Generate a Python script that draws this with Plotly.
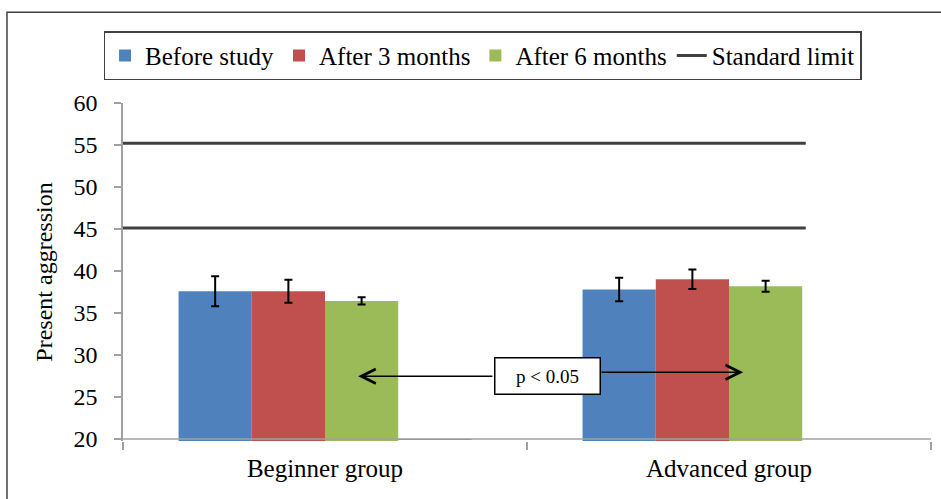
import plotly.graph_objects as go

categories = ["Beginner group", "Advanced group"]
series_names = ["Before study", "After 3 months", "After 6 months"]
before_study = [37.58, 37.79]
after_3_months = [37.58, 39.01]
after_6_months = [36.43, 38.18]
err_before = [1.79, 1.41]
err_3 = [1.37, 1.17]
err_6 = [0.44, 0.65]
extra_series = [19.93, None]          # tiny purple bar sitting just under the axis
standard_limits = [55.2, 45.1]
limit_span = [-0.5, 1.19]
y_ticks = [20, 25, 30, 35, 40, 45, 50, 55, 60]
p_text = "p &lt; 0.05"
arrow_left = dict(head=(0.082, 27.46), tail=(0.418, 27.46))
arrow_right = dict(head=(1.035, 27.94), tail=(0.681, 27.94))
box_pos = (0.5495, 27.52)

Y_MIN, Y_MAX = 19.75, 60
colors = ["#4F81BD", "#C0504D", "#9BBB59"]
FONT = "Liberation Serif, Times New Roman, serif"

fig = go.Figure()
for name, vals, errs, col in zip(series_names,
                                 [before_study, after_3_months, after_6_months],
                                 [err_before, err_3, err_6], colors):
    fig.add_trace(go.Bar(
        x=categories, y=vals, name=name, marker=dict(color=col, line=dict(width=0)),
        error_y=dict(type="data", array=errs, color="black", thickness=2, width=4),
    ))

fig.add_trace(go.Bar(
    x=categories, y=[None if v is None else v - Y_MIN - 0.15 for v in extra_series],
    base=Y_MIN + 0.15, name="", showlegend=False,
    marker=dict(color="#8064A2", line=dict(width=0)), hoverinfo="skip",
))

for i, lim in enumerate(standard_limits):
    fig.add_trace(go.Scatter(
        x=limit_span, y=[lim, lim], xaxis="x2", yaxis="y", mode="lines",
        line=dict(color="#404040", width=3), name="Standard limit",
        legendgroup="limit", showlegend=(i == 0),
    ))

shapes = [
    # x axis baseline at y = 20
    dict(type="line", xref="paper", yref="y", x0=0, x1=1, y0=20, y1=20,
         line=dict(color="#A0A0A0", width=1.5)),
    # outer frame
    dict(type="rect", xref="paper", yref="paper", x0=-0.1436, x1=1.03, y0=-0.21, y1=1.2686,
         line=dict(color="#404040", width=1.5), layer="below"),
]

annotations = [
    dict(x=arrow_left["head"][0], y=arrow_left["head"][1], ax=arrow_left["tail"][0],
         ay=arrow_left["tail"][1], xref="x", yref="y", axref="x", ayref="y",
         text="", showarrow=True, arrowhead=5, arrowsize=1.9, arrowwidth=1.5, arrowcolor="black"),
    dict(x=arrow_right["head"][0], y=arrow_right["head"][1], ax=arrow_right["tail"][0],
         ay=arrow_right["tail"][1], xref="x", yref="y", axref="x", ayref="y",
         text="", showarrow=True, arrowhead=5, arrowsize=1.9, arrowwidth=1.5, arrowcolor="black"),
    dict(x=box_pos[0], y=box_pos[1], xref="x", yref="y", text=p_text, showarrow=False,
         font=dict(family=FONT, size=19, color="black"), bgcolor="white",
         bordercolor="black", borderwidth=1.5, borderpad=0, width=104, height=35),
]

fig.update_layout(
    width=941, height=499,
    margin=dict(l=123, r=10, t=103, b=58),
    paper_bgcolor="white", plot_bgcolor="white",
    font=dict(family=FONT, color="black"),
    barmode="group", bargap=0.275, bargroupgap=0,
    showlegend=True,
    legend=dict(orientation="h", x=0.445, xanchor="center", y=1.2124, yanchor="top",
                bordercolor="#404040", borderwidth=1.5, bgcolor="white",
                font=dict(family=FONT, size=25, color="black"), traceorder="normal"),
    xaxis=dict(type="category", range=[-0.5, 1.5], showline=False, showgrid=False,
               zeroline=False, ticks="outside", tickson="boundaries", ticklen=8,
               tickcolor="#A0A0A0", tickwidth=1.5, ticklabelstandoff=10,
               tickfont=dict(family=FONT, size=25, color="black")),
    xaxis2=dict(overlaying="x", range=[-0.5, 1.5], visible=False),
    yaxis=dict(range=[Y_MIN, Y_MAX], tickvals=y_ticks, showgrid=False, zeroline=False,
               showline=True, linecolor="#A0A0A0", linewidth=1.5, ticks="outside",
               ticklen=7, tickcolor="#A0A0A0", tickwidth=1.5, ticklabelstandoff=12,
               tickfont=dict(family=FONT, size=24, color="black"),
               title=dict(text="Present aggression", font=dict(family=FONT, size=24, color="black"),
                          standoff=14)),
    shapes=shapes, annotations=annotations,
)

fig.write_html("out.html", config={"displayModeBar": False},
               post_script="document.body.style.margin='0';document.body.style.padding='0';")
